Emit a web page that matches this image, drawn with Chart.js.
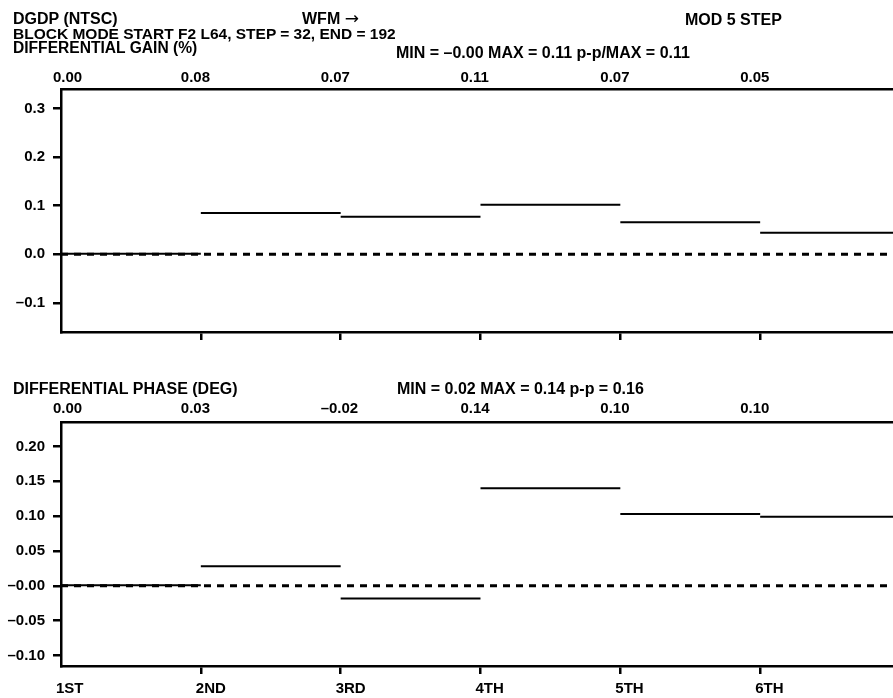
<!DOCTYPE html>
<html>
<head>
<meta charset="utf-8">
<script src="https://cdn.jsdelivr.net/npm/chart.js@4.4.1/dist/chart.umd.min.js"></script>
<style>
  html, body { margin: 0; padding: 0; background: #fff; }
  #wrap { position: relative; width: 893px; height: 698px; overflow: hidden; background: #fff; }
  canvas { position: absolute; left: 0; top: 0; }
  .t { position: absolute; font-family: 'Liberation Sans', Arial, sans-serif; font-weight: bold;
       font-size: 16px; line-height: 15px; color: #000; white-space: nowrap; }
  .arr { font-family: 'DejaVu Sans', sans-serif; font-weight: normal; font-size: 17px; }
</style>
</head>
<body>
<div id="wrap">
  <canvas id="c1" width="893" height="698"></canvas>
  <canvas id="c2" width="893" height="698"></canvas>
  <div class="t" style="left:13px;top:11px">DGDP (NTSC)</div>
  <div class="t" style="left:302px;top:11px">WFM <span class="arr">&rarr;</span></div>
  <div class="t" style="left:685px;top:12px">MOD 5 STEP</div>
  <div class="t" style="left:13px;top:26px;font-size:15.5px">BLOCK MODE START F2 L64, STEP = 32, END = 192</div>
  <div class="t" style="left:13px;top:40px;font-size:15.6px">DIFFERENTIAL GAIN (%)</div>
  <div class="t" style="left:396px;top:45px">MIN = &ndash;0.00 MAX = 0.11 p-p/MAX = 0.11</div>
  <div class="t" style="left:13px;top:381px">DIFFERENTIAL PHASE (DEG)</div>
  <div class="t" style="left:397px;top:381px">MIN = 0.02 MAX = 0.14 p-p = 0.16</div>
</div>
<script>
// ---- data ----
const steps = ['1ST', '2ND', '3RD', '4TH', '5TH', '6TH'];
const gainValues = [0.001, 0.085, 0.077, 0.102, 0.066, 0.044];
const phaseValues = [0.001, 0.028, -0.018, 0.140, 0.103, 0.099];
const gainLabels = ['0.00', '0.08', '0.07', '0.11', '0.07', '0.05'];
const phaseLabels = ['0.00', '0.03', '\u20130.02', '0.14', '0.10', '0.10'];
const gainTicks = [-0.1, 0, 0.1, 0.2, 0.3];
const gainTickLabels = ['\u20130.1', '0.0', '0.1', '0.2', '0.3'];
const phaseTicks = [-0.10, -0.05, 0, 0.05, 0.10, 0.15, 0.20];
const phaseTickLabels = ['\u20130.10', '\u20130.05', '\u20130.00', '0.05', '0.10', '0.15', '0.20'];
const stepPositions = [0, 1, 2, 3, 4, 5];

const FONT = { family: "'Liberation Sans', Arial, sans-serif", weight: 'bold', size: 15 };
Chart.defaults.font = FONT;
Chart.defaults.color = '#000';

function segData(values) {
  const d = [];
  values.forEach((v, i) => {
    d.push({ x: i, y: v });
    d.push({ x: i + 1, y: v });
    d.push({ x: i + 1, y: null });
  });
  return d;
}

const valueLabelPlugin = {
  id: 'valueLabels',
  afterDraw(chart, args, opts) {
    const ctx = chart.ctx;
    const xs = chart.scales.x;
    ctx.save();
    ctx.font = "bold 15px 'Liberation Sans', Arial, sans-serif";
    ctx.fillStyle = '#000';
    ctx.textAlign = 'left';
    ctx.textBaseline = 'alphabetic';
    opts.labels.forEach((lab, i) => {
      const px = xs.getPixelForValue(stepPositions[i]) + (i === 0 ? -8 : -20);
      ctx.fillText(lab, px, opts.baseline);
    });
    ctx.restore();
  }
};

function makeChart(id, cfg) {
  const xMax = 5.95;
  return new Chart(document.getElementById(id), {
    type: 'line',
    data: {
      datasets: [
        {
          data: [{ x: 0, y: 0 }, { x: 6, y: 0 }],
          borderColor: '#000', borderWidth: 3, borderDash: [7, 6],
          pointRadius: 0, fill: false
        },
        {
          data: segData(cfg.values),
          borderColor: '#000', borderWidth: 2, spanGaps: false,
          pointRadius: 0, fill: false
        }
      ]
    },
    options: {
      responsive: false,
      animation: false,
      events: [],
      layout: { padding: { left: 0, right: 0, top: cfg.top, bottom: cfg.padBottom } },
      plugins: {
        legend: { display: false },
        tooltip: { enabled: false },
        valueLabels: { labels: cfg.labels, baseline: cfg.labelBaseline }
      },
      scales: {
        x: {
          type: 'linear', position: 'bottom', min: 0, max: xMax,
          afterBuildTicks: s => { s.ticks = stepPositions.map(v => ({ value: v })); },
          afterFit: s => { s.height = 30; },
          ticks: {
            display: cfg.showX, align: 'start', labelOffset: -5, padding: 6,
            maxRotation: 0, autoSkip: false,
            callback: (v, i) => steps[i]
          },
          grid: {
            drawOnChartArea: false, drawTicks: true, tickLength: 8,
            tickWidth: 2.5, lineWidth: 2.5,
            tickColor: c => (c.tick && c.tick.value === 0 ? 'rgba(0,0,0,0)' : '#000')
          },
          border: { display: true, width: 2.5, color: '#000' }
        },
        xTop: {
          type: 'linear', position: 'top', min: 0, max: xMax,
          afterFit: s => { s.height = 0; },
          ticks: { display: false },
          grid: { drawOnChartArea: false, drawTicks: false },
          border: { display: true, width: 2.5, color: '#000' }
        },
        y: {
          type: 'linear', position: 'left', min: cfg.yMin, max: cfg.yMax,
          afterBuildTicks: s => { s.ticks = cfg.ticks.map(v => ({ value: v })); },
          afterFit: s => { s.width = 61; },
          ticks: {
            padding: 8,
            callback: (v, i) => cfg.tickLabels[i]
          },
          grid: {
            drawOnChartArea: false, drawTicks: true, tickLength: 8,
            tickWidth: 2.5, lineWidth: 2.5, tickColor: '#000'
          },
          border: { display: true, width: 2.5, color: '#000' }
        }
      }
    },
    plugins: [valueLabelPlugin]
  });
}

makeChart('c1', {
  values: gainValues, labels: gainLabels, ticks: gainTicks, tickLabels: gainTickLabels,
  yMin: -0.16, yMax: 0.34, top: 89, padBottom: 698 - 332 - 30, showX: false, labelBaseline: 82
});
makeChart('c2', {
  values: phaseValues, labels: phaseLabels, ticks: phaseTicks, tickLabels: phaseTickLabels,
  yMin: -0.115, yMax: 0.235, top: 422, padBottom: 698 - 666 - 30, showX: true, labelBaseline: 413
});
</script>
</body>
</html>
